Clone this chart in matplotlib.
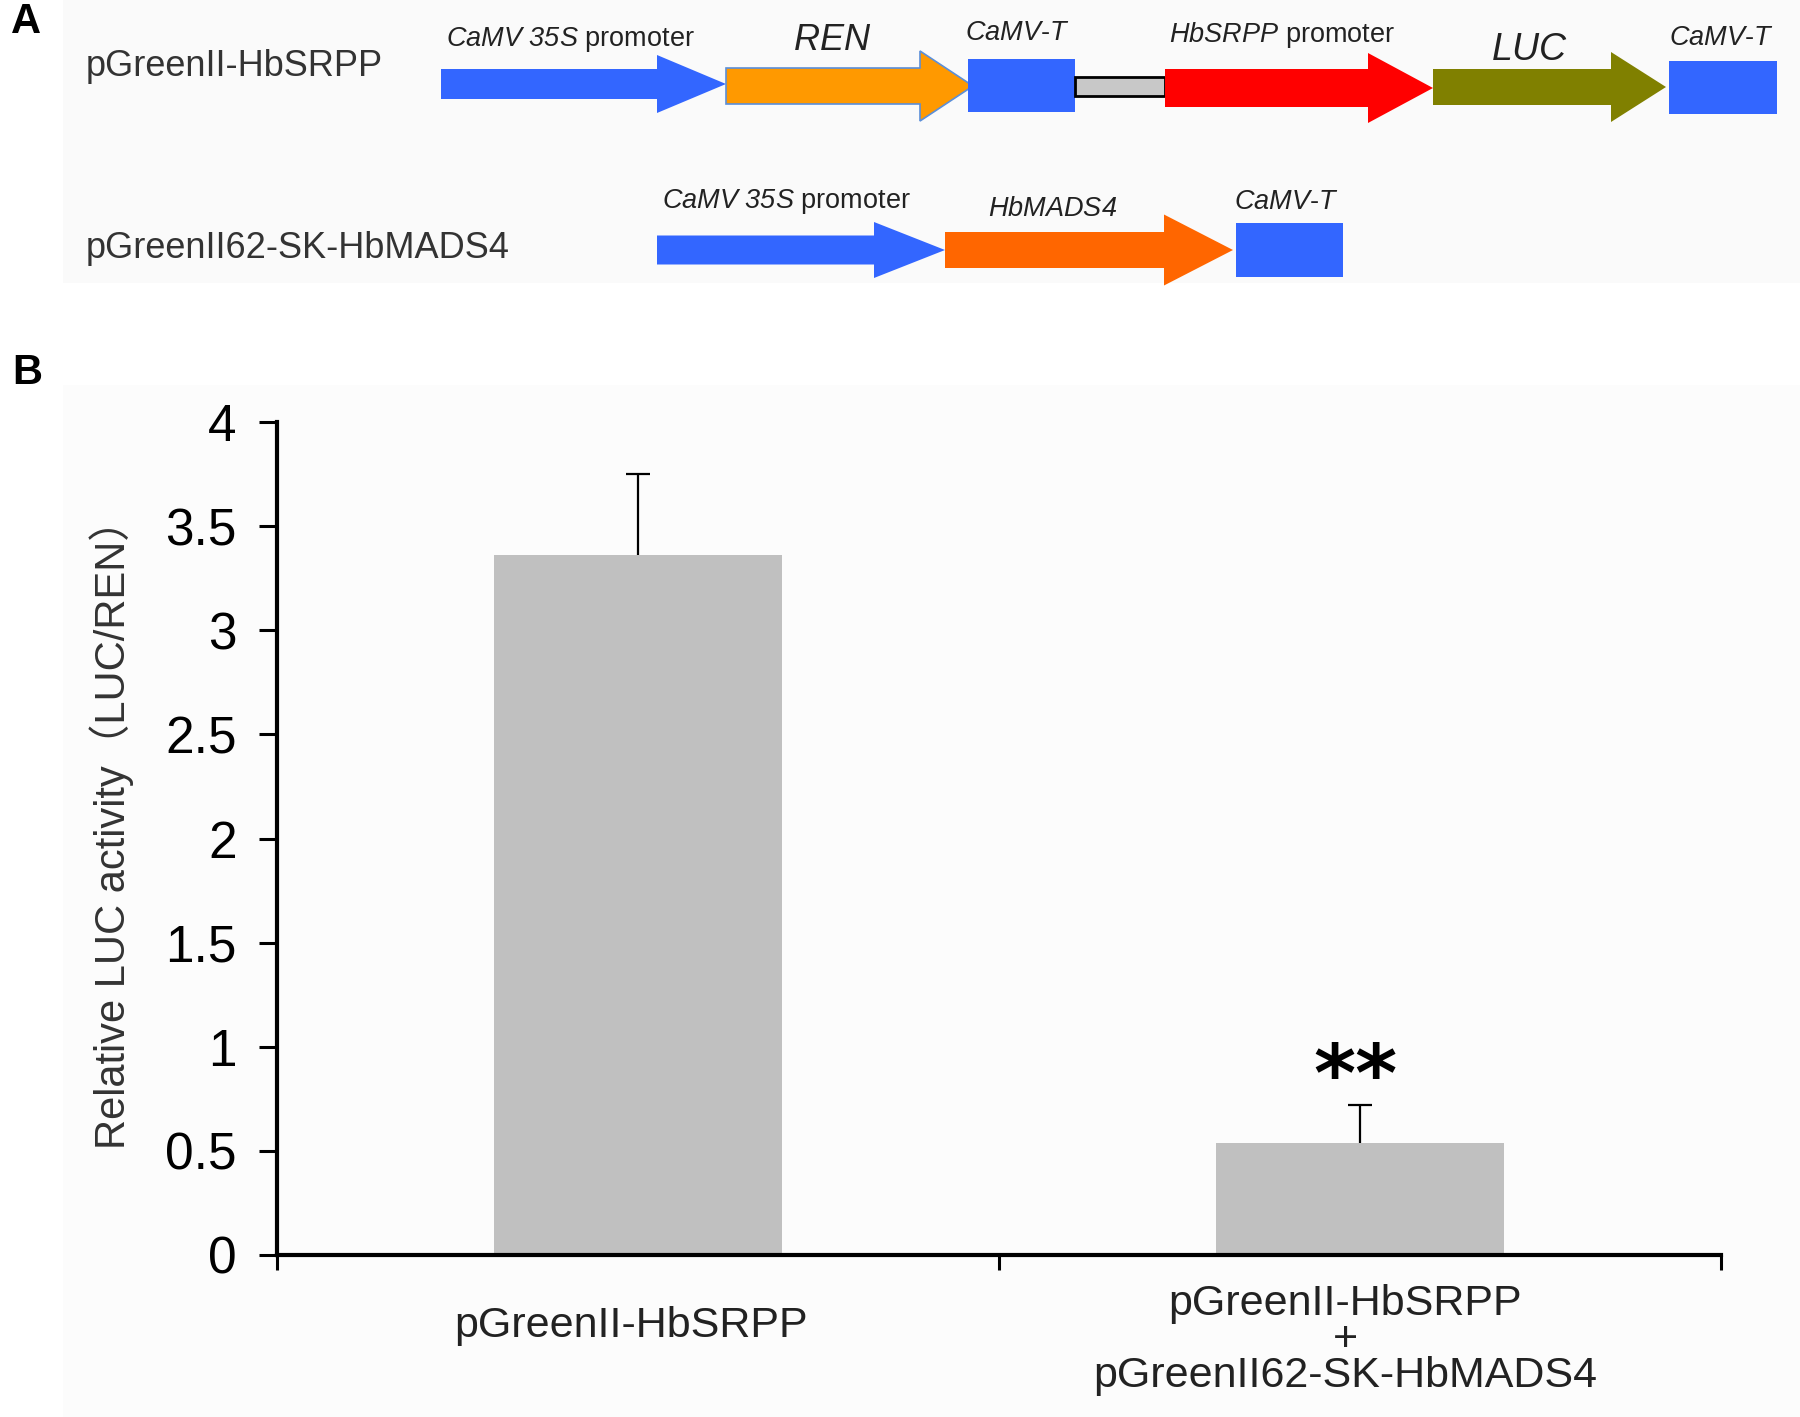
import matplotlib
matplotlib.use("Agg")
import matplotlib.pyplot as plt
import numpy as np
from matplotlib.patches import Polygon, Rectangle
from matplotlib.transforms import blended_transform_factory

plt.rcParams['font.family'] = ['Liberation Sans', 'DejaVu Sans']
plt.rcParams['mathtext.fontset'] = 'custom'
plt.rcParams['mathtext.rm'] = 'Liberation Sans:italic'
plt.rcParams['mathtext.it'] = 'Liberation Sans:italic'

# ---------------- data ----------------
categories = ["pGreenII-HbSRPP", "pGreenII-HbSRPP\n+\npGreenII62-SK-HbMADS4"]
luc_ratio = [3.36, 0.54]
luc_err = [0.39, 0.18]
significance = ["", "**"]
y_ticks = [0, 0.5, 1, 1.5, 2, 2.5, 3, 3.5, 4]
y_label = "Relative LUC activity（LUC/REN）"

construct_names = ["pGreenII-HbSRPP", "pGreenII62-SK-HbMADS4"]
construct1_parts = [r"$\mathit{CaMV\ 35S}$ promoter", r"$\mathit{REN}$", r"$\mathit{CaMV}$-$\mathit{T}$",
                    "", r"$\mathit{HbSRPP}$ promoter", r"$\mathit{LUC}$", r"$\mathit{CaMV}$-$\mathit{T}$"]
construct2_parts = [r"$\mathit{CaMV\ 35S}$ promoter", r"$\mathit{HbMADS4}$", r"$\mathit{CaMV}$-$\mathit{T}$"]

# ---------------- figure ----------------
W, H = 1800, 1417
fig = plt.figure(figsize=(W / 100, H / 100), dpi=100)
fig.patch.set_facecolor('white')

# pixel-space canvas for the diagram (panel A) and panel labels
cv = fig.add_axes([0, 0, 1, 1], zorder=0)
cv.set_xlim(0, W)
cv.set_ylim(H, 0)
cv.axis('off')

cv.add_patch(Rectangle((63, 0), W - 63, 283, facecolor='#fafafa', edgecolor='none'))
cv.add_patch(Rectangle((63, 385), W - 63, H - 385, facecolor='#fcfcfc', edgecolor='none'))


def arrow(x0, x1, yc, sh, hx, hh, color, edge='none', lw=0):
    pts = [(x0, yc - sh), (hx, yc - sh), (hx, yc - hh), (x1, yc),
           (hx, yc + hh), (hx, yc + sh), (x0, yc + sh)]
    cv.add_patch(Polygon(pts, closed=True, facecolor=color, edgecolor=edge, linewidth=lw, zorder=2))


def box(x0, x1, y0, y1, color, edge='none', lw=0):
    cv.add_patch(Rectangle((x0, y0), x1 - x0, y1 - y0, facecolor=color, edgecolor=edge, linewidth=lw, zorder=2))


# layout of construct 1 (kind, geometry, colour)
layout1 = [
    ("arrow", (441, 726, 84, 15, 657, 29), '#3366ff', 'none'),
    ("arrow", (726, 973, 86, 18, 920, 35), '#ff9900', '#5b8fd9'),
    ("box", (968, 1075, 59, 112), '#3366ff', 'none'),
    ("box", (1075, 1165, 77, 96), '#c8c8c8', 'black'),
    ("arrow", (1165, 1433, 88, 19, 1368, 35), '#ff0000', 'none'),
    ("arrow", (1433, 1666, 87, 18, 1611, 35), '#808000', 'none'),
    ("box", (1669, 1777, 61, 114), '#3366ff', 'none'),
]
label_pos1 = [(570, 40, 19.5), (832, 40, 26), (1017, 33, 19.5), None,
              (1282, 35, 19.5), (1530, 50, 27), (1721, 38, 19.5)]

layout2 = [
    ("arrow", (657, 945, 250, 14.5, 874, 28), '#3366ff', 'none'),
    ("arrow", (945, 1233, 250, 18, 1164, 35.5), '#ff6600', 'none'),
    ("box", (1236, 1343, 223, 277), '#3366ff', 'none'),
]
label_pos2 = [(786, 202, 19.5), (1053, 209, 19.5), (1286, 202, 19.5)]

for layout, parts, lpos in [(layout1, construct1_parts, label_pos1),
                            (layout2, construct2_parts, label_pos2)]:
    for (kind, geo, col, edge), name, lp in zip(layout, parts, lpos):
        if kind == "arrow":
            arrow(*geo, col, edge=edge, lw=1.2 if edge != 'none' else 0)
        else:
            box(*geo, col, edge=edge, lw=2.0 if edge != 'none' else 0)
        if lp is not None and name:
            cv.text(lp[0], lp[1], name, fontsize=lp[2], ha='center', va='center', color='#222222')

row_y = [66, 248]
for name, yy in zip(construct_names, row_y):
    cv.text(86, yy, name, fontsize=26, ha='left', va='center', color='#333333')

cv.text(11, 22, "A", fontsize=30, fontweight='bold', ha='left', va='center', color='black')
cv.text(12, 373, "B", fontsize=30, fontweight='bold', ha='left', va='center', color='black')

# ---------------- panel B bar chart ----------------
x0_px, x1_px, ytop_px, ybot_px = 277, 1721, 422, 1255
ax = fig.add_axes([x0_px / W, 1 - ybot_px / H, (x1_px - x0_px) / W, (ybot_px - ytop_px) / H], zorder=1)
ax.set_facecolor('none')

x = np.arange(len(categories))
ax.bar(x, luc_ratio, width=0.4, color='#c0c0c0', zorder=2)
tops = np.array(luc_ratio) + np.array(luc_err)
ax.vlines(x, luc_ratio, tops, color='black', linewidth=1.6, zorder=3)
ax.plot(x, tops, ls='none', marker='_', markersize=17, markeredgewidth=1.6, color='black', zorder=3)

for xi, top, s in zip(x, tops, significance):
    if s:
        ax.annotate(s, (xi, top), xytext=(-3, 3), textcoords='offset points',
                    ha='center', va='baseline', fontsize=58, fontweight='bold',
                    family='DejaVu Sans', color='black')

ax.set_xlim(-0.5, len(categories) - 0.5)
ax.set_ylim(0, 4)
ax.spines['top'].set_visible(False)
ax.spines['right'].set_visible(False)
for sp in ('left', 'bottom'):
    ax.spines[sp].set_linewidth(3)
    ax.spines[sp].set_zorder(4)

ax.set_yticks(y_ticks)
ax.set_yticklabels([f"{v:g}" for v in y_ticks])
ax.tick_params(axis='y', direction='out', length=13, width=2.2, labelsize=37, pad=16)
ax.set_xticks(np.arange(len(categories) + 1) - 0.5)
ax.set_xticklabels([])
ax.tick_params(axis='x', direction='out', length=11, width=2.2)

tr = blended_transform_factory(ax.transData, fig.transFigure)
cat_y_px = [1326, 1340]
cat_dx = [-0.01, -0.02]
for xi, cat, py, dx in zip(x, categories, cat_y_px, cat_dx):
    ax.text(xi + dx, 1 - py / H, cat, transform=tr, ha='center', va='center',
            fontsize=31, linespacing=0.88, color='#222222', multialignment='center')

fig.text(112 / W, 1 - 824 / H, y_label, rotation=90, ha='center', va='center',
         fontsize=30, color='#333333', family=['Liberation Sans', 'Noto Sans CJK SC'])

fig.savefig("out.png", dpi=100)
